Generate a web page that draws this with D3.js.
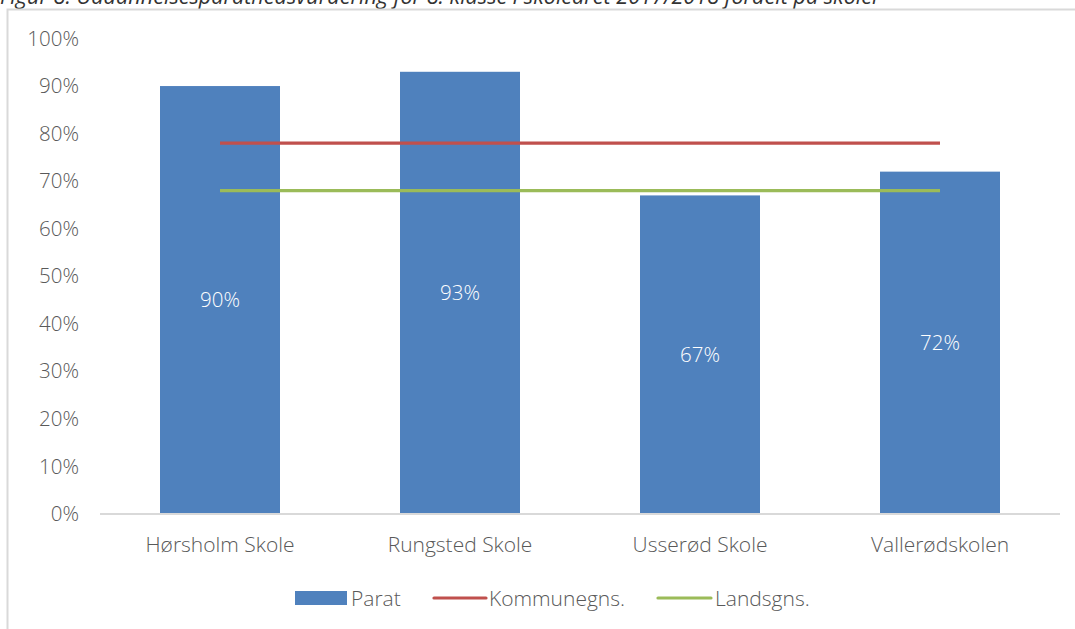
<!DOCTYPE html>
<html><head><meta charset="utf-8">
<script src="https://cdn.jsdelivr.net/npm/d3@7"></script>
<style>
html,body{margin:0;padding:0;background:#fff;}
svg{display:block;}
</style></head>
<body>
<svg id="c" width="1075" height="629"></svg>
<script>
const title = "Figur 8: Uddannelsesparathedsvurdering for 8. klasse i skoleåret 2017/2018 fordelt på skoler";
const categories = ["Hørsholm Skole", "Rungsted Skole", "Usserød Skole", "Vallerødskolen"];
const parat = [0.90, 0.93, 0.67, 0.72];
const kommunegns = [0.78, 0.78, 0.78, 0.78];
const landsgns = [0.68, 0.68, 0.68, 0.68];
const yTicks = [0, 0.1, 0.2, 0.3, 0.4, 0.5, 0.6, 0.7, 0.8, 0.9, 1.0];
const legendItems = ["Parat", "Kommunegns.", "Landsgns."];

const font = "'Open Sans', 'Noto Sans', sans-serif";
const svg = d3.select("#c");

// title (partly cut off at top, as in the reference)
svg.append("text").attr("x", 0).attr("y", 4)
  .attr("font-family", font).attr("font-style", "italic").attr("font-size", 21.6)
  .attr("fill", "#333").text(title);

// frame
svg.append("path").attr("d", "M7.5,629 V9.5 H1075")
  .attr("fill", "none").attr("stroke", "#d9d9d9").attr("stroke-width", 2);

const x = d3.scaleBand().domain(categories).range([100, 1060]).paddingInner(0.5).paddingOuter(0.25);
const y = d3.scaleLinear().domain([0, 1]).range([514, 38.5]);

// y axis labels
const ya = svg.append("g").attr("transform", "translate(79,0)")
  .call(d3.axisLeft(y).tickValues(yTicks).tickSize(0).tickPadding(0).tickFormat(d3.format(".0%")));
ya.select(".domain").remove();
ya.selectAll("text").attr("font-family", font).attr("font-weight", 300).attr("font-size", 20.5).attr("fill", "#595959");

// bars
svg.append("g").selectAll("rect").data(parat).join("rect")
  .attr("x", (d, i) => x(categories[i]))
  .attr("width", x.bandwidth())
  .attr("y", d => y(d))
  .attr("height", d => y(0) - y(d))
  .attr("fill", "#4F81BD");

// baseline + category labels
const xa = svg.append("g").attr("transform", "translate(0,514)")
  .call(d3.axisBottom(x).tickSize(0).tickPadding(38));
xa.select(".domain").attr("stroke", "#d9d9d9").attr("stroke-width", 2).attr("d", "M100,0H1060");
xa.selectAll("text").attr("font-family", font).attr("font-weight", 300).attr("font-size", 21).attr("fill", "#595959").attr("dy", "0");

// bar labels
svg.append("g").selectAll("text").data(parat).join("text")
  .attr("x", (d, i) => x(categories[i]) + x.bandwidth() / 2)
  .attr("y", d => y(d / 2))
  .attr("dy", "0.35em")
  .attr("text-anchor", "middle")
  .attr("font-family", font).attr("font-weight", 300).attr("font-size", 20.5)
  .attr("fill", "#fff")
  .text(d => d3.format(".0%")(d));

// lines
const cx = (d, i) => x(categories[i]) + x.bandwidth() / 2;
const line = d3.line().x(cx).y(d => y(d));
svg.append("path").datum(kommunegns).attr("d", line).attr("fill", "none").attr("stroke", "#C0504D").attr("stroke-width", 3.2);
svg.append("path").datum(landsgns).attr("d", line).attr("fill", "none").attr("stroke", "#9BBB59").attr("stroke-width", 3.2);

// legend
const lg = svg.append("g").attr("font-family", font).attr("font-weight", 300).attr("font-size", 21).attr("fill", "#595959");
lg.append("rect").attr("x", 295).attr("y", 591).attr("width", 52).attr("height", 14).attr("fill", "#4F81BD");
lg.append("text").attr("x", 351).attr("y", 606).text(legendItems[0]);
lg.append("line").attr("x1", 434).attr("x2", 486).attr("y1", 598).attr("y2", 598).attr("stroke", "#C0504D").attr("stroke-width", 3.2).attr("stroke-linecap", "round");
lg.append("text").attr("x", 489).attr("y", 606).text(legendItems[1]);
lg.append("line").attr("x1", 658).attr("x2", 711).attr("y1", 598).attr("y2", 598).attr("stroke", "#9BBB59").attr("stroke-width", 3.2).attr("stroke-linecap", "round");
lg.append("text").attr("x", 715).attr("y", 606).text(legendItems[2]);
</script>
</body></html>
